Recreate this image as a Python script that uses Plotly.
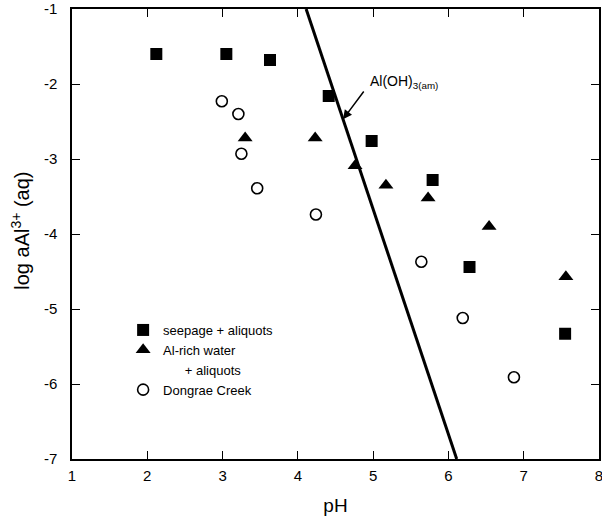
import plotly.graph_objects as go

# seepage + aliquots
seep_ph = [2.12, 3.05, 3.63, 4.41, 4.98, 5.79, 6.28, 7.55]
seep_al = [-1.60, -1.60, -1.68, -2.16, -2.76, -3.28, -4.44, -5.33]

# Al-rich water + aliquots
alr_ph = [3.30, 4.23, 4.76, 5.17, 5.73, 6.54, 7.56]
alr_al = [-2.72, -2.72, -3.09, -3.35, -3.52, -3.90, -4.57]

# Dongrae Creek
dc_ph = [2.99, 3.21, 3.25, 3.46, 4.24, 5.64, 6.19, 6.87]
dc_al = [-2.23, -2.40, -2.93, -3.39, -3.74, -4.37, -5.12, -5.91]

# Al(OH)3(am) solubility line: log aAl3+ = K - 3 pH
line_K = 11.33
line_ph = [4.11, 6.11]
line_al = [line_K - 3 * p for p in line_ph]

# label / arrow for the line
label_ph, label_al = 4.93, -1.97
arrow_tail = (4.89, -2.08)
arrow_head_ph = 4.60
arrow_head_al = line_K - 3 * arrow_head_ph

xticks = [1, 2, 3, 4, 5, 6, 7, 8]
yticks = [-1, -2, -3, -4, -5, -6, -7]

font = "Liberation Sans, Arial, sans-serif"

fig = go.Figure()
fig.add_trace(go.Scatter(x=line_ph, y=line_al, mode="lines",
                         line=dict(color="black", width=3), showlegend=False))
fig.add_trace(go.Scatter(x=seep_ph, y=seep_al, mode="markers", name="seepage + aliquots",
                         marker=dict(symbol="square", size=12, color="black")))
fig.add_trace(go.Scatter(x=alr_ph, y=alr_al, mode="markers", name="Al-rich water",
                         marker=dict(symbol="triangle-up", size=13, color="black")))
# continuation line of the "Al-rich water" legend label (no marks)
fig.add_trace(go.Scatter(x=[None], y=[None], mode="markers",
                         name="\u00a0\u00a0\u00a0\u00a0\u00a0\u00a0+ aliquots",
                         marker=dict(size=1, color="rgba(0,0,0,0)"), hoverinfo="skip"))
fig.add_trace(go.Scatter(x=dc_ph, y=dc_al, mode="markers", name="Dongrae Creek",
                         marker=dict(symbol="circle-open", size=11, color="black",
                                     line=dict(width=1.6, color="black"))))

fig.add_annotation(x=arrow_head_ph, y=arrow_head_al, ax=arrow_tail[0], ay=arrow_tail[1],
                   axref="x", ayref="y", xref="x", yref="y", showarrow=True,
                   arrowhead=2, arrowsize=1.2, arrowwidth=1.5, arrowcolor="black", text="")
fig.add_annotation(x=label_ph, y=label_al, xref="x", yref="y", showarrow=False,
                   text="Al(OH)<sub>3(am)</sub>", xanchor="left", yanchor="middle",
                   font=dict(size=14, color="black", family=font))
# y-axis title
fig.add_annotation(x=-0.097, y=0.507, xref="paper", yref="paper", showarrow=False,
                   text="log aAl<sup>3+</sup> (aq)", textangle=-90,
                   xanchor="center", yanchor="middle",
                   font=dict(size=20, color="black", family=font))

axis_common = dict(showline=True, linecolor="black", linewidth=1.5, mirror="ticks",
                   ticks="inside", ticklen=8, tickwidth=1.2, tickcolor="black",
                   showgrid=False, zeroline=False, automargin=False,
                   ticklabeloverflow="allow",
                   tickfont=dict(size=15, color="black", family=font))

fig.update_xaxes(range=[1, 8], tickvals=xticks, ticktext=[str(v) for v in xticks],
                 title=dict(text="pH", font=dict(size=19, color="black", family=font), standoff=16),
                 ticklabelstandoff=2,
                 **axis_common)
fig.update_yaxes(range=[-7, -1], tickvals=yticks, ticktext=[str(v) for v in yticks],
                 ticklabelstandoff=10,
                 **axis_common)

fig.update_layout(width=602, height=520, margin=dict(l=72, r=3, t=9, b=61),
                  plot_bgcolor="white", paper_bgcolor="white",
                  legend=dict(x=0.097, y=0.32, xanchor="left", yanchor="top",
                              bgcolor="rgba(0,0,0,0)", tracegroupgap=0, itemwidth=30,
                              font=dict(size=13, color="black", family=font)))

fig.write_html("out.html", config={"displayModeBar": False},
               post_script="document.body.style.margin='0';")
